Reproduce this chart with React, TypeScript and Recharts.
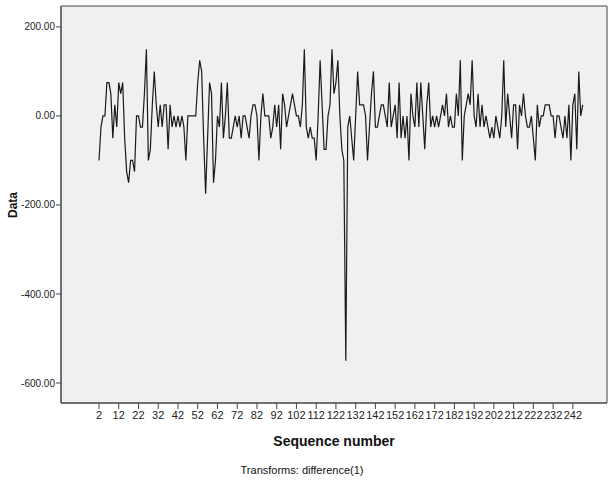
import React from 'react';
import { LineChart, Line, XAxis, YAxis, ReferenceArea } from 'recharts';

const FONT = '"Liberation Sans", Arial, sans-serif';

// Sequence numbers start at 2 (difference(1) removes the first case)
const firstSequenceNumber = 2;

// Differenced values (sequence 2 .. 247)
const valuesSeq2to51 = [
  -100, -25, 0, 0, 75, 75, 50, -50, 25, -25,
  75, 50, 75, -50, -125, -150, -100, -100, -125, 0,
  0, -25, -25, 50, 150, -100, -75, 25, 100, 25,
  -25, 25, -25, 25, 25, -75, 25, -25, 0, -25,
  0, -25, 0, -25, -100, 0, 0, 0, 0, 0,
];
const valuesSeq52to101 = [
  75, 125, 100, -50, -175, -50, 75, 50, -150, -100,
  0, -25, 75, -50, 0, 75, -50, -50, -25, 0,
  -25, 0, -50, 0, 0, -25, -50, 0, 25, 25,
  0, -100, 0, 50, 0, 0, 0, -50, -25, 25,
  -25, 25, -75, 50, 25, -25, 0, 25, 50, 25,
];
const valuesSeq102to151 = [
  0, 0, -25, 25, 150, -25, -50, -25, -50, -50,
  -100, 0, 125, 25, -75, -75, 0, 25, 150, 50,
  75, 125, 0, -75, -100, -550, -25, 0, -50, -100,
  0, 100, 25, 25, 25, 0, -100, -25, 50, 100,
  -25, -25, 0, 25, 25, 0, -25, 75, -25, 0,
];
const valuesSeq152to201 = [
  25, -50, 75, -50, 0, -50, 0, -100, 50, 0,
  -25, 75, -25, 75, 0, -75, 25, 75, -25, 0,
  -25, 0, -25, 0, 25, 0, 50, -25, 0, -25,
  -25, 50, 0, 125, -100, 0, 25, 50, 25, 125,
  0, -25, 50, -25, 25, -25, 0, -25, -50, -25,
];
const valuesSeq202to247 = [
  -50, 0, -25, -50, 0, 125, -25, 50, 0, -50,
  25, 25, -75, 25, 0, 50, 0, -25, -25, 0,
  -50, -100, 25, -25, 0, 0, 25, 25, 25, 0,
  0, -50, 0, 0, -25, -50, 0, -50, 25, -100,
  25, 50, -75, 100, 0, 25,
];

const xTicks = [2, 12, 22, 32, 42, 52, 62, 72, 82, 92, 102, 112, 122, 132, 142, 152, 162, 172, 182, 192, 202, 212, 222, 232, 242];
const yTicks = [-600, -400, -200, 0, 200];

const xDomain: [number, number] = [-17.25, 259.3];
const yDomain: [number, number] = [-645, 247];

const allValues = [
  ...valuesSeq2to51,
  ...valuesSeq52to101,
  ...valuesSeq102to151,
  ...valuesSeq152to201,
  ...valuesSeq202to247,
];
const data = allValues.map((v, i) => ({ seq: firstSequenceNumber + i, value: v }));

export default function App() {
  return (
    <div style={{ position: 'absolute', left: 0, top: 0, width: 608, height: 490, background: '#fff', fontFamily: FONT }}>
      <LineChart width={608} height={490} data={data} margin={{ top: 6, right: 1, bottom: 0, left: 0 }}>
        <XAxis
          dataKey="seq"
          type="number"
          domain={xDomain}
          ticks={xTicks}
          interval={0}
          allowDataOverflow
          height={87}
          tickSize={6}
          tickMargin={2}
          axisLine={{ stroke: '#444' }}
          tickLine={{ stroke: '#444' }}
          tick={{ fontSize: 11, fill: '#222', fontFamily: FONT }}
        />
        <YAxis
          type="number"
          domain={yDomain}
          ticks={yTicks}
          interval={0}
          allowDataOverflow
          width={61}
          tickSize={5}
          tickMargin={1}
          axisLine={{ stroke: '#444' }}
          tickLine={{ stroke: '#444' }}
          tick={{ fontSize: 10, fill: '#222', fontFamily: FONT }}
          tickFormatter={(v: number) => v.toFixed(2)}
        />
        <ReferenceArea
          x1={xDomain[0]}
          x2={xDomain[1]}
          y1={yDomain[0]}
          y2={yDomain[1]}
          fill="#f0f0f0"
          fillOpacity={1}
          stroke="#444"
          strokeWidth={1}
        />
        <Line
          dataKey="value"
          type="linear"
          stroke="#1a1a1a"
          strokeWidth={1.2}
          dot={false}
          activeDot={false}
          isAnimationActive={false}
        />
      </LineChart>
      <div
        style={{
          position: 'absolute',
          left: 13,
          top: 205,
          transform: 'translate(-50%, -50%) rotate(-90deg)',
          fontSize: 12,
          fontWeight: 'bold',
          color: '#111',
          whiteSpace: 'nowrap',
        }}
      >
        Data
      </div>
      <div
        style={{
          position: 'absolute',
          left: 334,
          top: 441,
          transform: 'translate(-50%, -50%)',
          fontSize: 14,
          fontWeight: 'bold',
          color: '#111',
          whiteSpace: 'nowrap',
        }}
      >
        Sequence number
      </div>
      <div
        style={{
          position: 'absolute',
          left: 302,
          top: 470,
          transform: 'translate(-50%, -50%)',
          fontSize: 11,
          color: '#111',
          whiteSpace: 'nowrap',
        }}
      >
        Transforms: difference(1)
      </div>
    </div>
  );
}
